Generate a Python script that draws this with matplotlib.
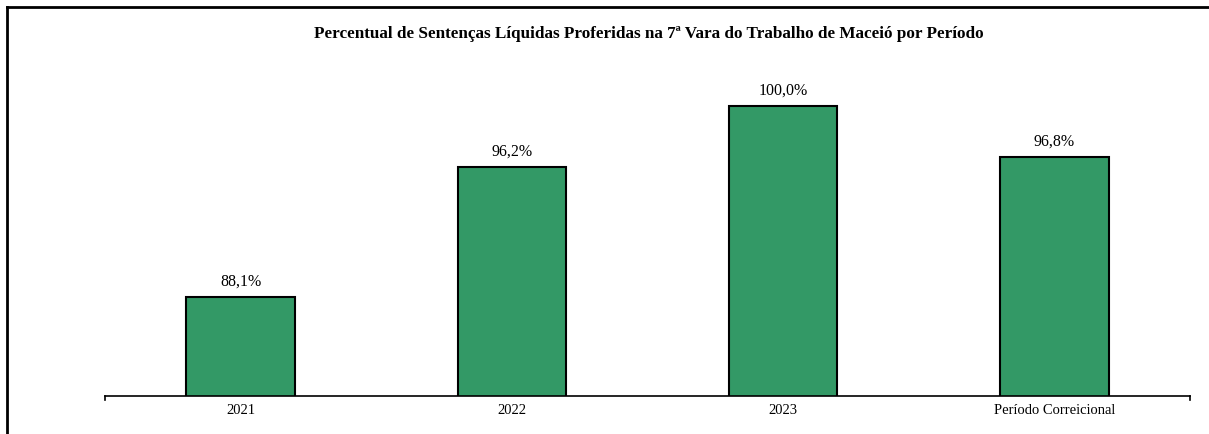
import matplotlib.pyplot as plt
from matplotlib.lines import Line2D

categorias = ['2021', '2022', '2023', 'Período Correicional']
percentuais = [88.1, 96.2, 100.0, 96.8]

plt.rcParams['font.family'] = ['Liberation Serif', 'DejaVu Serif']

W, H = 1209, 434
fig = plt.figure(figsize=(W / 100, H / 100), dpi=100)
ax = fig.add_axes([105 / W, 1 - 396 / H, (1190 - 105) / W, (396 - 70) / H])

x = range(len(categorias))
bars = ax.bar(x, percentuais, width=0.4, color='#339966', edgecolor='black', linewidth=1.5)
ax.set_xlim(-0.5, len(categorias) - 0.5)
ax.set_ylim(81.93, 100 + (396 - 70 - 290) / 16.05)

for b, v in zip(bars, percentuais):
    ax.text(b.get_x() + b.get_width() / 2, v + 0.45, f'{v:.1f}%'.replace('.', ','),
            ha='center', va='bottom', fontsize=11.5)

ax.set_xticks(list(x))
ax.set_xticklabels(categorias, fontsize=10.5)
ax.tick_params(axis='x', length=0, pad=6)
ax.set_yticks([])
for s in ['top', 'right', 'left']:
    ax.spines[s].set_visible(False)
ax.spines['bottom'].set_linewidth(1.2)
# pequenos traços nas extremidades do eixo
ax.plot([-0.5, -0.5], [81.93, 81.93 - 0.25], color='black', lw=1.2, clip_on=False)
ax.plot([3.5, 3.5], [81.93, 81.93 - 0.25], color='black', lw=1.2, clip_on=False)

fig.text(649 / W, 1 - 34 / H, 'Percentual de Sentenças Líquidas Proferidas na 7ª Vara do Trabalho de Maceió por Período',
         ha='center', va='center', fontsize=12.3, fontweight='bold')

# moldura do gráfico (esquerda e topo)
fig.add_artist(Line2D([7 / W, 7 / W], [0, 1 - 7 / H], color='black', lw=2))
fig.add_artist(Line2D([7 / W, 1], [1 - 7 / H, 1 - 7 / H], color='black', lw=2))

fig.savefig('out.png', dpi=100)
